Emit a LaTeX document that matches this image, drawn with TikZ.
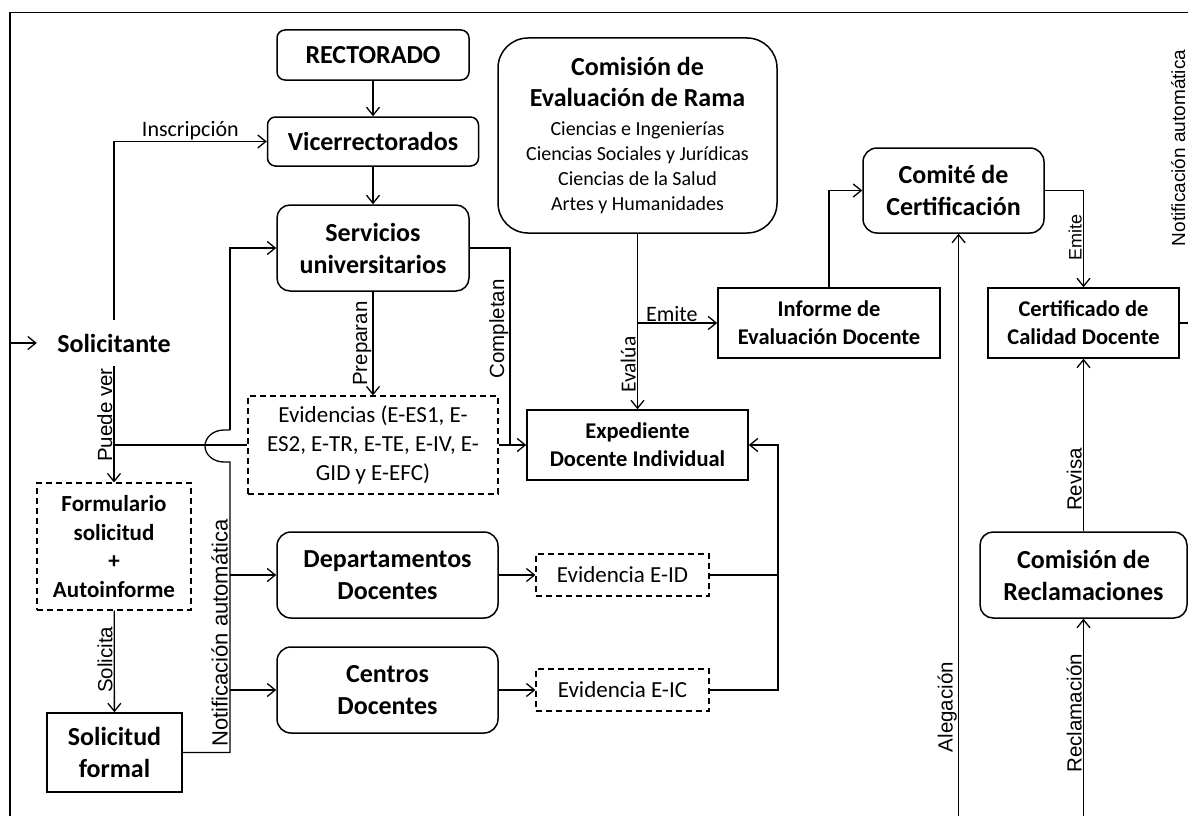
\documentclass[tikz,border=0pt]{standalone}
\usepackage{fontspec}
\setmainfont{Carlito}
\newfontfamily\labfont{Liberation Sans}
\usetikzlibrary{arrows.meta,calc}
\begin{document}
\begin{tikzpicture}[x=1pt,y=-1pt,
  box/.style={draw, line width=1.5pt, inner sep=0pt, align=center},
  rbox/.style={box, rounded corners=#1},
  dbox/.style={box, dash pattern=on 6pt off 4pt, line width=1.2pt},
  big/.style={font=\fontsize{26}{32}\selectfont\bfseries},
  mid/.style={font=\fontsize{22.5}{28}\selectfont\bfseries},
  con/.style={line width=1.3pt},
  arr/.style={con, -{Straight Barb[length=8pt,width=13pt]}},
  lab/.style={font=\labfont\fontsize{20.5}{24}\selectfont, inner sep=1pt},
  vlab/.style={lab, rotate=90, anchor=south},
  clab/.style={font=\fontsize{22}{26}\selectfont, inner sep=1pt},
]
\useasboundingbox (0,0) rectangle (1188,816);
\fill[white] (0,0) rectangle (1188,816);
\clip (0,0) rectangle (1188,816);

% frame
\draw[con] (10,830) -- (10,12.5) -- (1200,12.5);

% nodes
\node[rbox=8pt, big, minimum width=192pt, minimum height=50pt] (rect) at (373,55) {RECTORADO};
\node[rbox=8pt, big, minimum width=211pt, minimum height=49pt] (vice) at (373,141.5) {Vicerrectorados};
\node[rbox=13pt, big, minimum width=192pt, minimum height=86pt] (serv) at (373,248) {Servicios\\universitarios};
\node[big, inner sep=0pt, minimum width=154pt, minimum height=46pt] (sol) at (114,343) {Solicitante};
\node[dbox, font=\fontsize{23}{28.5}\selectfont\bfseries, minimum width=154pt, minimum height=127pt] (form) at (114,546.5) {Formulario\\solicitud\\+\\Autoinforme};
\node[box, big, minimum width=135pt, minimum height=79pt] (solf) at (114.5,752.5) {Solicitud\\formal};
\node[dbox, font=\fontsize{23}{29}\selectfont, minimum width=250pt, minimum height=98pt] (evid) at (373,445) {Evidencias (E-ES1, E-\\ES2, E-TR, E-TE, E-IV, E-\\GID y E-EFC)};
\node[rbox=14pt, big, minimum width=221pt, minimum height=86pt] (dep) at (387.5,575) {Departamentos\\Docentes};
\node[rbox=14pt, big, minimum width=221pt, minimum height=86pt] (cen) at (387.5,690) {Centros\\Docentes};
\node[dbox, font=\fontsize{23}{28}\selectfont, minimum width=173pt, minimum height=42pt] (eid) at (622.5,575) {Evidencia E-ID};
\node[dbox, font=\fontsize{23}{28}\selectfont, minimum width=173pt, minimum height=42pt] (eic) at (622.5,690) {Evidencia E-IC};
\node[box, mid, minimum width=221pt, minimum height=70pt] (exp) at (637.5,445) {Expediente\\Docente Individual};
\node[rbox=30pt, minimum width=279pt, minimum height=195pt] (cer) at (637.5,135.5) {\begin{minipage}{270pt}\centering\bfseries\fontsize{26}{31}\selectfont Comisión de\\Evaluación de Rama\par\vspace{4pt}\mdseries\fontsize{20}{25}\selectfont Ciencias e Ingenierías\\Ciencias Sociales y Jurídicas\\Ciencias de la Salud\\Artes y Humanidades\par\end{minipage}};
\node[box, mid, minimum width=222pt, minimum height=70pt] (inf) at (829,323) {Informe de\\Evaluación Docente};
\node[rbox=14pt, big, minimum width=181pt, minimum height=85pt] (comite) at (953.5,190.5) {Comité de\\Certificación};
\node[box, mid, minimum width=191pt, minimum height=70pt] (cert) at (1083.5,323) {Certificado de\\Calidad Docente};
\node[rbox=13pt, big, minimum width=207pt, minimum height=86pt] (crec) at (1083.5,575) {Comisión de\\Reclamaciones};

% helper coordinates
\coordinate (inleft) at (10,343);
\coordinate (pv) at (114,445);
\coordinate (nx) at (230,0);
\coordinate (jb) at (230,462);
\coordinate (jt) at (230,430);
\coordinate (cx) at (510,445);
\coordinate (ej) at (778,445);
\coordinate (aleg) at (958.6,830);
\coordinate (recl) at (1083.5,830);
\coordinate (outr) at (1200,323);

% connectors
\draw[arr] (rect) -- (vice);
\draw[arr] (vice) -- (serv);
\draw[arr] (sol.north) |- (vice.west) node[clab, pos=0.75, above] {Inscripción};
\draw[arr] (inleft) -- (sol.west);
\draw[arr] (sol.south) -- (form.north) node[vlab, pos=0.42] {Puede ver};
\draw[con] (pv) -- (evid.west);
\draw[arr] (evid.east) -- (exp.west);
\draw[con] (serv.east) -| (cx) node[vlab, pos=0.705] {Completan};
\draw[con] (solf.east) -| (jb) -- ++(-6,0) arc[start angle=270, end angle=90, x radius=19pt, y radius=16pt] -- (jt);
\draw[arr] (jt) |- (serv.west);
\node[vlab, font=\labfont\fontsize{22}{26}\selectfont] at (229,633) {Notificación automática};
\draw[arr] (nx |- dep.west) -- (dep.west);
\draw[arr] (nx |- cen.west) -- (cen.west);
\draw[arr] (serv) -- (evid) node[vlab, pos=0.5] {Preparan};
\draw[arr] (dep.east) -- (eid.west);
\draw[arr] (cen.east) -- (eic.west);
\draw[con] (eid.east) -- (eid.east -| ej);
\draw[arr] (eic.east) -| (ej) -- (exp.east);
\draw[arr] (cer) -- (exp) node[vlab, font=\fontsize{21.5}{25}\selectfont, pos=0.746] {Evalúa};
\draw[arr] (cer.south |- inf.west) -- (inf.west) node[clab, pos=0.43, above] {Emite};
\draw[arr] (inf.north) |- (comite.west);
\draw[arr] (comite.east) -| (cert.north) node[vlab, font=\labfont\fontsize{18}{21}\selectfont, pos=0.744] {Emite};
\draw[con] (cert.east) -- (outr);
\node[vlab, font=\labfont\fontsize{19}{22}\selectfont] at (1186.5,148) {Notificación automática};
\draw[arr] (crec) -- (cert) node[vlab, pos=0.3] {Revisa};
\draw[arr] (recl) -- (crec.south) node[vlab, pos=0.552] {Reclamación};
\draw[arr] (aleg) -- (aleg |- comite.south) node[vlab, pos=0.206] {Alegación};
\draw[arr] (form) -- (solf) node[vlab, pos=0.485] {Solicita};
\end{tikzpicture}
\end{document}
